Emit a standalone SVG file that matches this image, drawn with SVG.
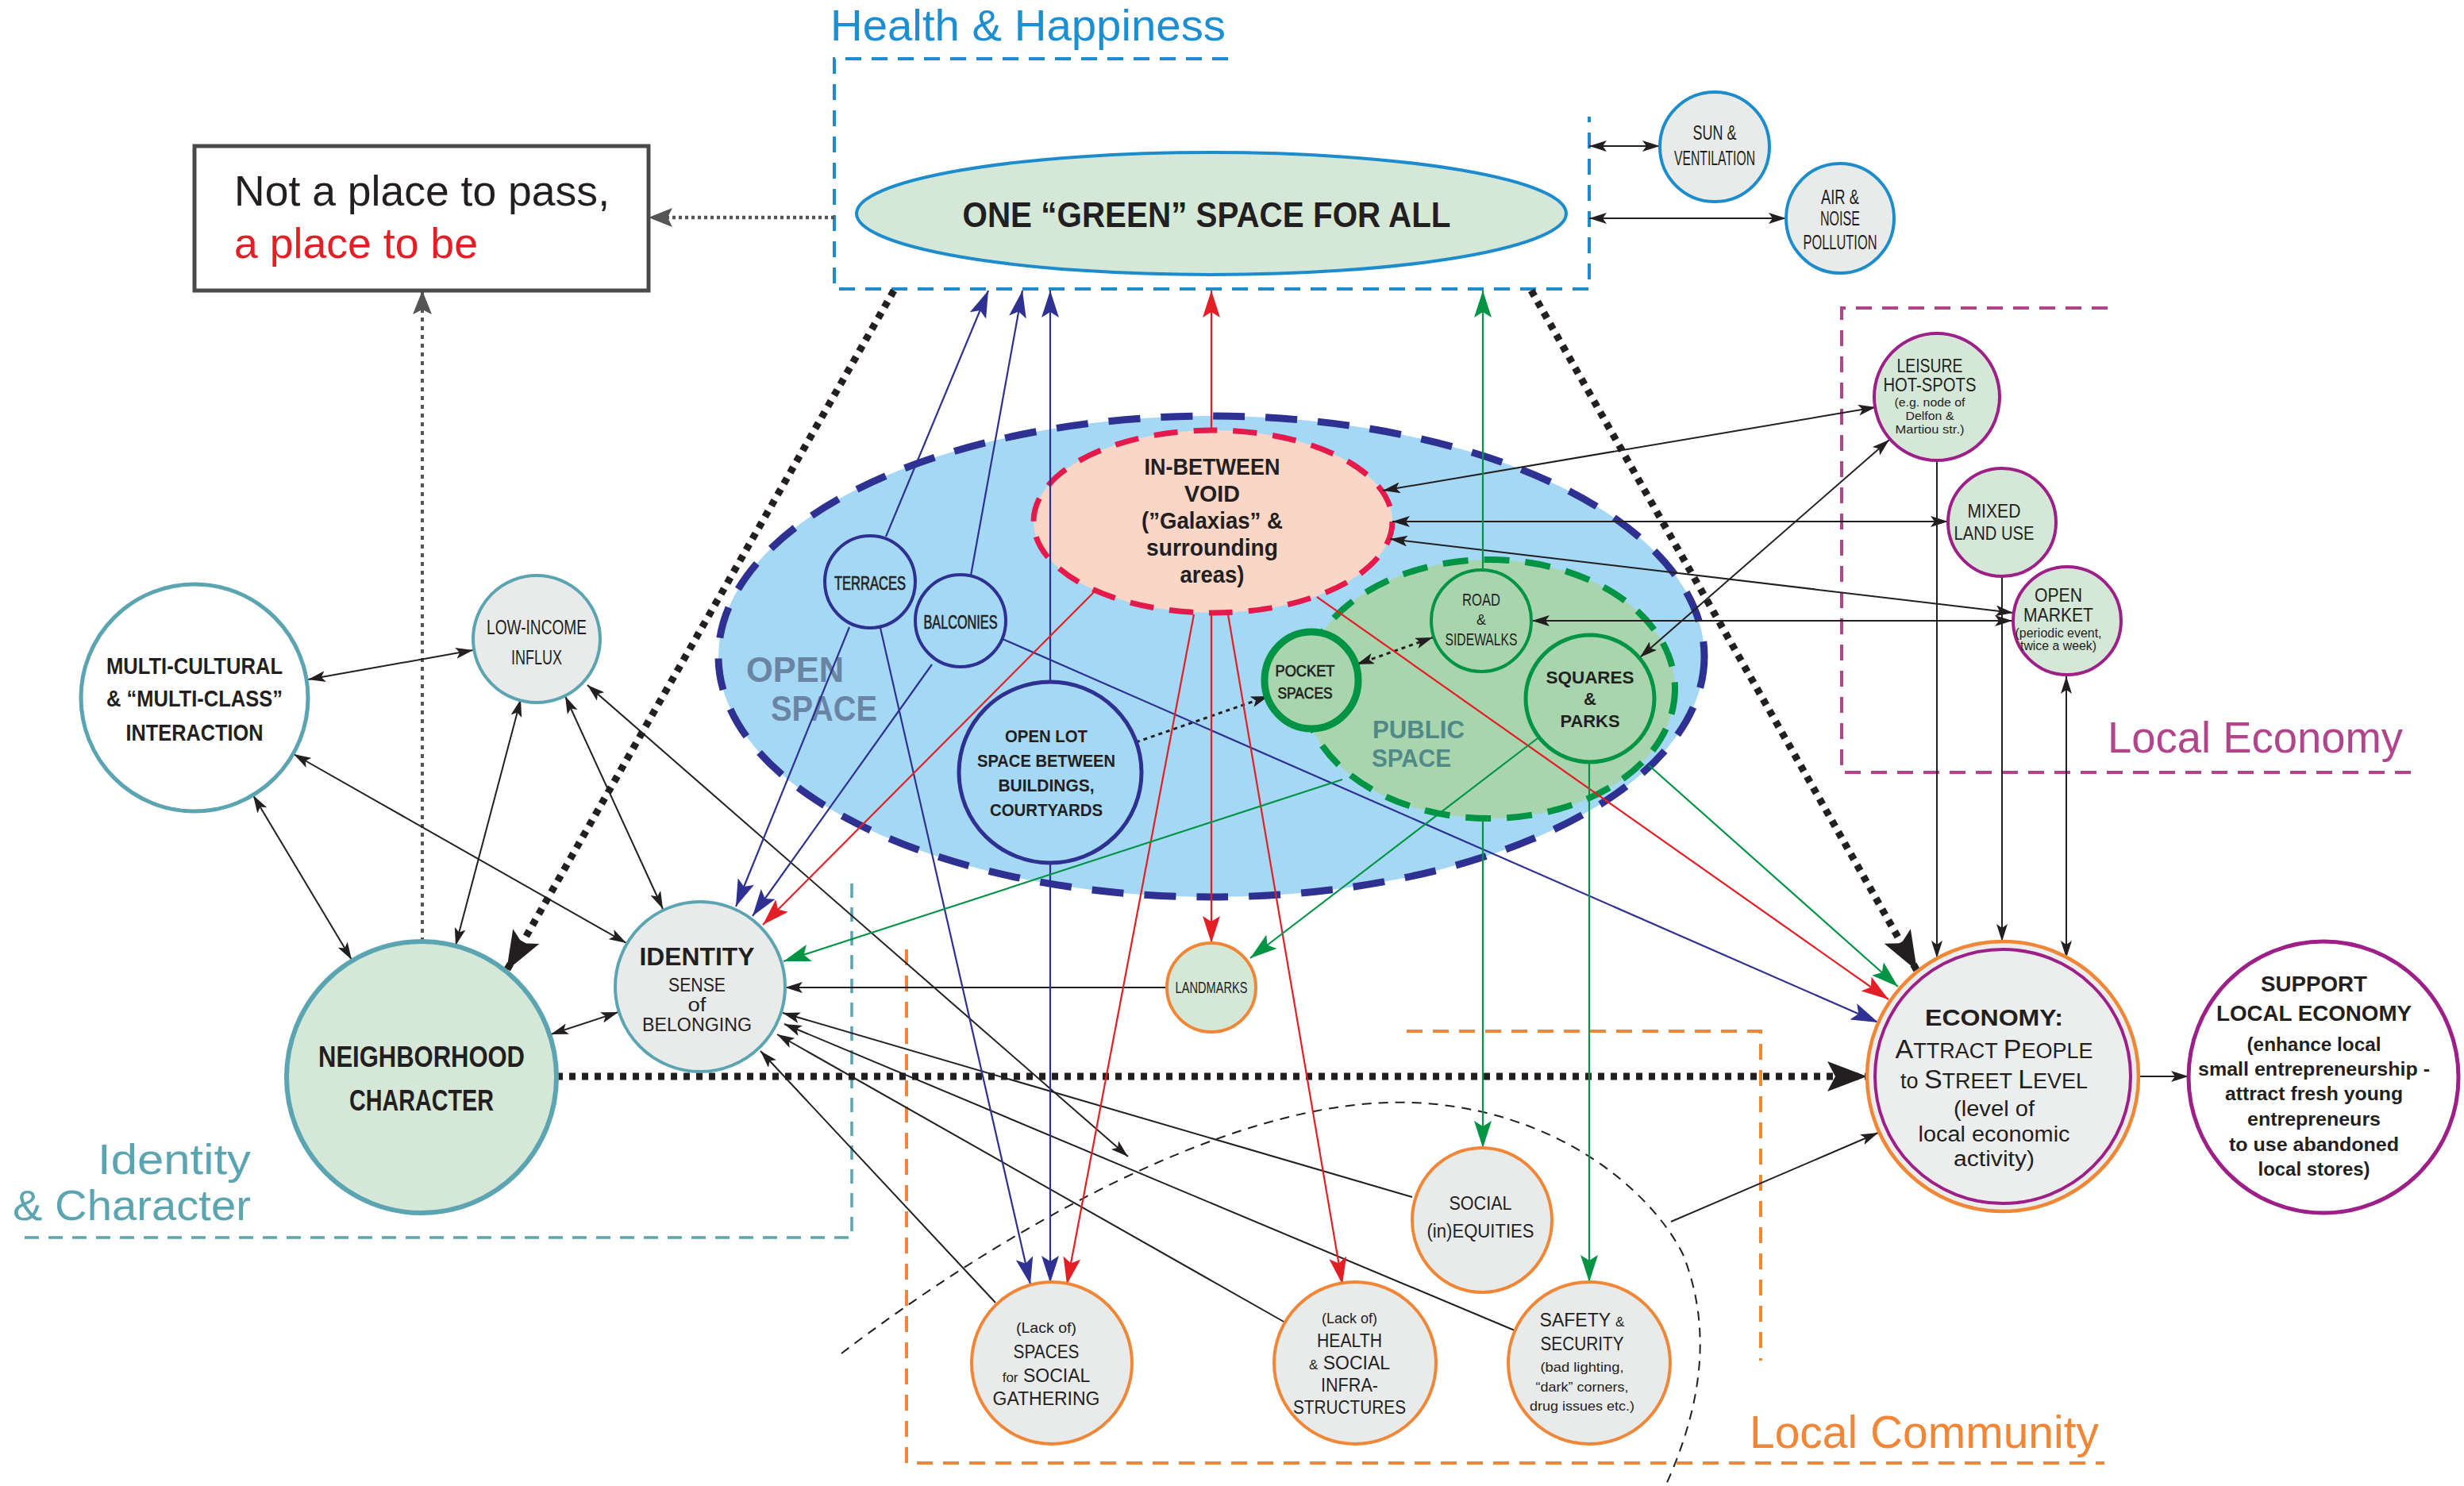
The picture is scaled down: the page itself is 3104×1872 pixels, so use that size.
<svg xmlns="http://www.w3.org/2000/svg" width="3104" height="1872" viewBox="0 0 3104 1872">
<style>
.t{font-family:"Liberation Sans",Arial,sans-serif;fill:#231f20;text-anchor:middle}
.b{font-weight:bold}
.m{stroke:#231f20;stroke-width:0.7}
.ln{fill:none;stroke:#231f20;stroke-width:2}
.nv{fill:none;stroke:#2e3192;stroke-width:2.2}
.rd{fill:none;stroke:#e31e24;stroke-width:2.2}
.gn{fill:none;stroke:#009444;stroke-width:2.2}
.gd{fill:none;stroke:#555;stroke-width:4.5;stroke-dasharray:4 4}
.th{fill:none;stroke:#231f20;stroke-width:9;stroke-dasharray:8 8}
.sd{fill:none;stroke:#231f20;stroke-width:3;stroke-dasharray:5 5}
.grey{fill:#e9ebeb}
.lg{fill:#d5e8d8}
.teal{stroke:#5ba4b1}
.blue{stroke:#1c8ccd}
.pur{stroke:#9e1f87}
.org{stroke:#f08636}
.nvc{stroke:#2e3192}
.grc{stroke:#009444}
</style>
<defs>
<marker id="ak" viewBox="0 0 22 14" refX="22" refY="7" markerWidth="22" markerHeight="14" markerUnits="userSpaceOnUse" orient="auto-start-reverse"><path d="M0,0 L22,7 L0,14 L5,7 z" fill="#231f20"/></marker>
<marker id="an" viewBox="0 0 34 22" refX="34" refY="11" markerWidth="34" markerHeight="22" markerUnits="userSpaceOnUse" orient="auto"><path d="M0,0 L34,11 L0,22 L7,11 z" fill="#2e3192"/></marker>
<marker id="ar" viewBox="0 0 34 22" refX="34" refY="11" markerWidth="34" markerHeight="22" markerUnits="userSpaceOnUse" orient="auto"><path d="M0,0 L34,11 L0,22 L7,11 z" fill="#e31e24"/></marker>
<marker id="ag" viewBox="0 0 34 22" refX="34" refY="11" markerWidth="34" markerHeight="22" markerUnits="userSpaceOnUse" orient="auto"><path d="M0,0 L34,11 L0,22 L7,11 z" fill="#009444"/></marker>
<marker id="agr" viewBox="0 0 30 24" refX="30" refY="12" markerWidth="30" markerHeight="24" markerUnits="userSpaceOnUse" orient="auto"><path d="M0,0 L30,12 L0,24 L6,12 z" fill="#555"/></marker>
<marker id="at" viewBox="0 0 50 38" refX="50" refY="19" markerWidth="50" markerHeight="38" markerUnits="userSpaceOnUse" orient="auto"><path d="M0,0 L50,19 L0,38 L10,19 z" fill="#231f20"/></marker>
</defs>
<rect width="3104" height="1872" fill="#fff"/>

<g id="frames" fill="none" stroke-width="4">
<path d="M1547,74 H1051 V364 H2002 V147" stroke="#1c8ccd" stroke-dasharray="20 13"/>
<path d="M2655,388 H2320 V973 H3049" stroke="#b0458c" stroke-dasharray="20 13"/>
<path d="M1142,1196 V1843 H2651" stroke="#f08636" stroke-dasharray="20 13"/>
<path d="M1772,1299 H2218 V1714" stroke="#f08636" stroke-dasharray="20 13"/>
<path d="M1073,1113 V1559 H20" stroke="#5ba4b1" stroke-width="3.5" stroke-dasharray="18 12"/>
<path d="M1060,1705 C1250,1560 1550,1380 1779,1389 C1960,1396 2080,1500 2120,1580 C2160,1680 2140,1780 2098,1872" stroke="#231f20" stroke-width="2" stroke-dasharray="12 9"/>
</g>
<g id="frame-labels" class="t" style="text-anchor:start">
<text x="1046" y="51" font-size="56" style="fill:#1b8fd2" textLength="498" lengthAdjust="spacingAndGlyphs">Health &amp; Happiness</text>
<text x="2655" y="948" font-size="55" style="fill:#b0458c" textLength="372" lengthAdjust="spacingAndGlyphs">Local Economy</text>
<text x="2204" y="1824" font-size="57" style="fill:#f08636" textLength="440" lengthAdjust="spacingAndGlyphs">Local Community</text>
<text x="316" y="1479" font-size="54" style="fill:#5ba4b1;text-anchor:end" textLength="193" lengthAdjust="spacingAndGlyphs">Identity</text>
<text x="316" y="1537" font-size="54" style="fill:#5ba4b1;text-anchor:end" textLength="300" lengthAdjust="spacingAndGlyphs">&amp; Character</text>
</g>

<g id="open-space">
<ellipse cx="1526" cy="827" rx="621" ry="303" fill="#a4d8f4" stroke="#2e3192" stroke-width="9" stroke-dasharray="40 26"/>
<text class="t b" x="940" y="859" font-size="44" style="text-anchor:start;fill:#6a84a4" textLength="123" lengthAdjust="spacingAndGlyphs">OPEN</text>
<text class="t b" x="971" y="908" font-size="44" style="text-anchor:start;fill:#6a84a4" textLength="134" lengthAdjust="spacingAndGlyphs">SPACE</text>
</g>
<g id="public-space">
<ellipse cx="1876" cy="868" rx="234" ry="163" fill="#a9d5ae" stroke="#009444" stroke-width="8" stroke-dasharray="32 20"/>
<text class="t b" x="1729" y="930" font-size="31" style="text-anchor:start;fill:#508a88" textLength="116" lengthAdjust="spacingAndGlyphs">PUBLIC</text>
<text class="t b" x="1728" y="966" font-size="31" style="text-anchor:start;fill:#508a88" textLength="100" lengthAdjust="spacingAndGlyphs">SPACE</text>
</g>
<g id="in-between-void">
<ellipse cx="1528" cy="657" rx="226" ry="115" fill="#f9d6c6" stroke="#e5194b" stroke-width="7" stroke-dasharray="30 20"/>
<g class="t b" font-size="30">
<text x="1527" y="598" textLength="171" lengthAdjust="spacingAndGlyphs">IN-BETWEEN</text>
<text x="1527" y="632" textLength="70" lengthAdjust="spacingAndGlyphs">VOID</text>
<text x="1527" y="666" textLength="178" lengthAdjust="spacingAndGlyphs">(”Galaxias” &amp;</text>
<text x="1527" y="700" textLength="166" lengthAdjust="spacingAndGlyphs">surrounding</text>
<text x="1527" y="734" textLength="81" lengthAdjust="spacingAndGlyphs">areas)</text>
</g>
</g>

<g id="connectors">
<line class="gd" x1="1051" y1="274" x2="817" y2="274" marker-end="url(#agr)"/>
<line class="gd" x1="532" y1="1186" x2="532" y2="366" style="stroke-dasharray:5 6;stroke-width:4" marker-end="url(#agr)"/>
<line class="th" x1="1126" y1="366" x2="638" y2="1223" marker-end="url(#at)"/>
<line class="th" x1="1929" y1="366" x2="2415" y2="1223" marker-end="url(#at)"/>
<line class="th" x1="701" y1="1356" x2="2352" y2="1356" marker-end="url(#at)"/>

<line class="ln" x1="388" y1="856" x2="596" y2="819" marker-start="url(#ak)" marker-end="url(#ak)"/>
<line class="ln" x1="319" y1="1002" x2="443" y2="1209" marker-start="url(#ak)" marker-end="url(#ak)"/>
<line class="ln" x1="370" y1="950" x2="789" y2="1188" marker-start="url(#ak)" marker-end="url(#ak)"/>
<line class="ln" x1="656" y1="881" x2="574" y2="1191" marker-start="url(#ak)" marker-end="url(#ak)"/>
<line class="ln" x1="712" y1="877" x2="835" y2="1145" marker-start="url(#ak)" marker-end="url(#ak)"/>
<line class="ln" x1="740" y1="863" x2="1421" y2="1457" marker-start="url(#ak)" marker-end="url(#ak)"/>
<line class="ln" x1="694" y1="1303" x2="779" y2="1275" marker-start="url(#ak)" marker-end="url(#ak)"/>
<line class="ln" x1="2002" y1="184" x2="2091" y2="184" marker-start="url(#ak)" marker-end="url(#ak)"/>
<line class="ln" x1="2002" y1="275" x2="2250" y2="275" marker-start="url(#ak)" marker-end="url(#ak)"/>
<line class="ln" x1="1742" y1="618" x2="2363" y2="513" marker-start="url(#ak)" marker-end="url(#ak)"/>
<line class="ln" x1="1754" y1="657" x2="2454" y2="657" marker-start="url(#ak)" marker-end="url(#ak)"/>
<line class="ln" x1="1751" y1="679" x2="2536" y2="772" marker-start="url(#ak)" marker-end="url(#ak)"/>
<line class="ln" x1="1930" y1="782" x2="2535" y2="782" marker-start="url(#ak)" marker-end="url(#ak)"/>
<line class="ln" x1="2380" y1="554" x2="2066" y2="828" marker-start="url(#ak)" marker-end="url(#ak)"/>
<line class="ln" x1="2603" y1="852" x2="2603" y2="1207" marker-start="url(#ak)" marker-end="url(#ak)"/>

<line class="ln" x1="1471" y1="1244" x2="989" y2="1244" marker-end="url(#ak)"/>
<line class="ln" x1="1779" y1="1508" x2="986" y2="1276" marker-end="url(#ak)"/>
<line class="ln" x1="1908" y1="1676" x2="988" y2="1290" marker-end="url(#ak)"/>
<line class="ln" x1="1619" y1="1666" x2="979" y2="1303" marker-end="url(#ak)"/>
<line class="ln" x1="1254" y1="1641" x2="958" y2="1324" marker-end="url(#ak)"/>
<line class="ln" x1="2440" y1="580" x2="2440" y2="1207" marker-end="url(#ak)"/>
<line class="ln" x1="2522" y1="726" x2="2522" y2="1186" marker-end="url(#ak)"/>
<line class="ln" x1="2693" y1="1356" x2="2757" y2="1356" marker-end="url(#ak)"/>
<line class="ln" x1="2105" y1="1539" x2="2366" y2="1427" marker-end="url(#ak)"/>

<line class="sd" x1="1709" y1="837" x2="1805" y2="803" marker-start="url(#ak)" marker-end="url(#ak)"/>
<line class="sd" x1="1431" y1="935" x2="1598" y2="877" marker-end="url(#ak)"/>

<line class="nv" x1="1116" y1="676" x2="1245" y2="366" marker-end="url(#an)"/>
<line class="nv" x1="1223" y1="725" x2="1288" y2="366" marker-end="url(#an)"/>
<line class="nv" x1="1323" y1="859" x2="1323" y2="366" marker-end="url(#an)"/>
<line class="nv" x1="1323" y1="1087" x2="1323" y2="1616" marker-end="url(#an)"/>
<line class="nv" x1="1070" y1="790" x2="927" y2="1142" marker-end="url(#an)"/>
<line class="nv" x1="1109" y1="791" x2="1298" y2="1618" marker-end="url(#an)"/>
<line class="nv" x1="1174" y1="837" x2="948" y2="1154" marker-end="url(#an)"/>
<line class="nv" x1="1263" y1="805" x2="2366" y2="1288" marker-end="url(#an)"/>

<line class="rd" x1="1526" y1="542" x2="1526" y2="366" marker-end="url(#ar)"/>
<line class="rd" x1="1526" y1="772" x2="1526" y2="1188" marker-end="url(#ar)"/>
<line class="rd" x1="1382" y1="742" x2="961" y2="1165" marker-end="url(#ar)"/>
<line class="rd" x1="1504" y1="774" x2="1344" y2="1618" marker-end="url(#ar)"/>
<line class="rd" x1="1547" y1="774" x2="1691" y2="1618" marker-end="url(#ar)"/>
<line class="rd" x1="1659" y1="752" x2="2379" y2="1259" marker-end="url(#ar)"/>

<line class="gn" x1="1868" y1="718" x2="1868" y2="366" marker-end="url(#ag)"/>
<line class="gn" x1="1691" y1="982" x2="987" y2="1211" marker-end="url(#ag)"/>
<line class="gn" x1="1937" y1="930" x2="1575" y2="1207" marker-end="url(#ag)"/>
<line class="gn" x1="1868" y1="1031" x2="1868" y2="1446" marker-end="url(#ag)"/>
<line class="gn" x1="2002" y1="961" x2="2002" y2="1615" marker-end="url(#ag)"/>
<line class="gn" x1="2077" y1="964" x2="2391" y2="1243" marker-end="url(#ag)"/>
</g>

<g id="place-to-be">
<rect x="245" y="184" width="572" height="182" fill="#fff" stroke="#4a4a4a" stroke-width="5"/>
<text class="t" x="295" y="259" font-size="53" style="text-anchor:start" textLength="473" lengthAdjust="spacingAndGlyphs">Not a place to pass,</text>
<text class="t" x="295" y="325" font-size="53" style="text-anchor:start;fill:#e31e24" textLength="307" lengthAdjust="spacingAndGlyphs">a place to be</text>
</g>
<g id="one-green-space">
<ellipse cx="1526" cy="269" rx="447" ry="77" class="lg blue" stroke-width="4"/>
<text class="t b" x="1520" y="286" font-size="45" textLength="615" lengthAdjust="spacingAndGlyphs">ONE “GREEN” SPACE FOR ALL</text>
</g>
<g id="sun-ventilation">
<ellipse cx="2160" cy="185" rx="69" ry="69" class="grey blue" stroke-width="4"/>
<text class="t" x="2160" y="176" font-size="25" textLength="55" lengthAdjust="spacingAndGlyphs">SUN &amp;</text>
<text class="t" x="2160" y="208" font-size="25" textLength="102" lengthAdjust="spacingAndGlyphs">VENTILATION</text>
</g>
<g id="air-noise">
<ellipse cx="2318" cy="275" rx="68" ry="69" class="grey blue" stroke-width="4"/>
<text class="t" x="2318" y="257" font-size="25" textLength="48" lengthAdjust="spacingAndGlyphs">AIR &amp;</text>
<text class="t" x="2318" y="284" font-size="25" textLength="50" lengthAdjust="spacingAndGlyphs">NOISE</text>
<text class="t" x="2318" y="314" font-size="25" textLength="93" lengthAdjust="spacingAndGlyphs">POLLUTION</text>
</g>
<g id="leisure">
<ellipse cx="2440" cy="500" rx="79" ry="80" class="lg pur" stroke-width="4"/>
<text class="t" x="2431" y="469" font-size="23" textLength="83" lengthAdjust="spacingAndGlyphs">LEISURE</text>
<text class="t" x="2431" y="493" font-size="23" textLength="117" lengthAdjust="spacingAndGlyphs">HOT-SPOTS</text>
<text class="t" x="2431" y="512" font-size="15" textLength="89" lengthAdjust="spacingAndGlyphs">(e.g. node of</text>
<text class="t" x="2431" y="529" font-size="15" textLength="61" lengthAdjust="spacingAndGlyphs">Delfon &amp;</text>
<text class="t" x="2431" y="546" font-size="15" textLength="87" lengthAdjust="spacingAndGlyphs">Martiou str.)</text>
</g>
<g id="mixed-land-use">
<ellipse cx="2522" cy="658" rx="68" ry="68" class="lg pur" stroke-width="4"/>
<text class="t" x="2512" y="652" font-size="23" textLength="67" lengthAdjust="spacingAndGlyphs">MIXED</text>
<text class="t" x="2512" y="680" font-size="23" textLength="101" lengthAdjust="spacingAndGlyphs">LAND USE</text>
</g>
<g id="open-market">
<ellipse cx="2604" cy="782" rx="68" ry="68" class="lg pur" stroke-width="4"/>
<text class="t" x="2593" y="758" font-size="23" textLength="60" lengthAdjust="spacingAndGlyphs">OPEN</text>
<text class="t" x="2593" y="783" font-size="23" textLength="88" lengthAdjust="spacingAndGlyphs">MARKET</text>
<text class="t" x="2593" y="803" font-size="16" textLength="109" lengthAdjust="spacingAndGlyphs">(periodic event,</text>
<text class="t" x="2593" y="819" font-size="16" textLength="96" lengthAdjust="spacingAndGlyphs">twice a week)</text>
</g>
<g id="economy">
<ellipse cx="2523" cy="1356" rx="171" ry="170" fill="#eceeee" class="org" stroke-width="4.5"/>
<ellipse cx="2523" cy="1356" rx="161" ry="160" fill="none" class="pur" stroke-width="4"/>
<text class="t b" x="2512" y="1292" font-size="30" textLength="174" lengthAdjust="spacingAndGlyphs">ECONOMY:</text>
<text class="t" x="2512" y="1333" font-size="27"><tspan font-size="34">A</tspan>TTRACT <tspan font-size="34">P</tspan>EOPLE</text>
<text class="t" x="2512" y="1371" font-size="27">to <tspan font-size="34">S</tspan>TREET <tspan font-size="34">L</tspan>EVEL</text>
<text class="t" x="2512" y="1406" font-size="27" textLength="102" lengthAdjust="spacingAndGlyphs">(level of</text>
<text class="t" x="2512" y="1438" font-size="27" textLength="191" lengthAdjust="spacingAndGlyphs">local economic</text>
<text class="t" x="2512" y="1469" font-size="27" textLength="102" lengthAdjust="spacingAndGlyphs">activity)</text>
</g>
<g id="support-local-economy">
<ellipse cx="2927" cy="1357" rx="170" ry="171" fill="#fff" class="pur" stroke-width="5"/>
<g class="t b">
<text x="2915" y="1249" font-size="28" textLength="134" lengthAdjust="spacingAndGlyphs">SUPPORT</text>
<text x="2915" y="1286" font-size="28" textLength="246" lengthAdjust="spacingAndGlyphs">LOCAL ECONOMY</text>
<text x="2915" y="1324" font-size="24" textLength="169" lengthAdjust="spacingAndGlyphs">(enhance local</text>
<text x="2915" y="1355" font-size="24" textLength="292" lengthAdjust="spacingAndGlyphs">small entrepreneurship -</text>
<text x="2915" y="1386" font-size="24" textLength="224" lengthAdjust="spacingAndGlyphs">attract fresh young</text>
<text x="2915" y="1418" font-size="24" textLength="168" lengthAdjust="spacingAndGlyphs">entrepreneurs</text>
<text x="2915" y="1450" font-size="24" textLength="214" lengthAdjust="spacingAndGlyphs">to use abandoned</text>
<text x="2915" y="1481" font-size="24" textLength="141" lengthAdjust="spacingAndGlyphs">local stores)</text>
</g>
</g>
<g id="multi-cultural">
<ellipse cx="245" cy="879" rx="143" ry="143" fill="#fff" class="teal" stroke-width="5"/>
<text class="t b" x="245" y="849" font-size="30" textLength="222" lengthAdjust="spacingAndGlyphs">MULTI-CULTURAL</text>
<text class="t b" x="245" y="890" font-size="30" textLength="222" lengthAdjust="spacingAndGlyphs">&amp; “MULTI-CLASS”</text>
<text class="t b" x="245" y="933" font-size="30" textLength="173" lengthAdjust="spacingAndGlyphs">INTERACTION</text>
</g>
<g id="low-income">
<ellipse cx="676" cy="805" rx="80" ry="80" class="grey teal" stroke-width="4"/>
<text class="t" x="676" y="799" font-size="25" textLength="126" lengthAdjust="spacingAndGlyphs">LOW-INCOME</text>
<text class="t" x="676" y="837" font-size="25" textLength="64" lengthAdjust="spacingAndGlyphs">INFLUX</text>
</g>
<g id="neighborhood-character">
<ellipse cx="531" cy="1357" rx="170" ry="171" class="lg teal" stroke-width="6"/>
<text class="t b" x="531" y="1344" font-size="36" textLength="260" lengthAdjust="spacingAndGlyphs">NEIGHBORHOOD</text>
<text class="t b" x="531" y="1399" font-size="36" textLength="182" lengthAdjust="spacingAndGlyphs">CHARACTER</text>
</g>
<g id="identity">
<ellipse cx="882" cy="1243" rx="107" ry="107" class="grey teal" stroke-width="4"/>
<text class="t b" x="878" y="1216" font-size="31" textLength="145" lengthAdjust="spacingAndGlyphs">IDENTITY</text>
<text class="t" x="878" y="1249" font-size="23" textLength="72" lengthAdjust="spacingAndGlyphs">SENSE</text>
<text class="t" x="878" y="1274" font-size="23" textLength="23" lengthAdjust="spacingAndGlyphs">of</text>
<text class="t" x="878" y="1299" font-size="23" textLength="138" lengthAdjust="spacingAndGlyphs">BELONGING</text>
</g>
<g id="terraces">
<ellipse cx="1096" cy="733" rx="57" ry="58" fill="#a4d8f4" class="nvc" stroke-width="4"/>
<text class="t m" x="1096" y="743" font-size="23" textLength="90" lengthAdjust="spacingAndGlyphs">TERRACES</text>
</g>
<g id="balconies">
<ellipse cx="1210" cy="782" rx="57" ry="58" fill="#a4d8f4" class="nvc" stroke-width="4"/>
<text class="t m" x="1210" y="792" font-size="23" textLength="93" lengthAdjust="spacingAndGlyphs">BALCONIES</text>
</g>
<g id="open-lot">
<ellipse cx="1323" cy="973" rx="115" ry="114" fill="#a4d8f4" class="nvc" stroke-width="5"/>
<text class="t b" x="1318" y="935" font-size="22" textLength="104" lengthAdjust="spacingAndGlyphs">OPEN LOT</text>
<text class="t b" x="1318" y="966" font-size="22" textLength="174" lengthAdjust="spacingAndGlyphs">SPACE BETWEEN</text>
<text class="t b" x="1318" y="997" font-size="22" textLength="121" lengthAdjust="spacingAndGlyphs">BUILDINGS,</text>
<text class="t b" x="1318" y="1028" font-size="22" textLength="142" lengthAdjust="spacingAndGlyphs">COURTYARDS</text>
</g>
<g id="pocket-spaces">
<ellipse cx="1652" cy="857" rx="59" ry="61" fill="#a9d5ae" class="grc" stroke-width="9"/>
<text class="t m" x="1644" y="852" font-size="21" textLength="75" lengthAdjust="spacingAndGlyphs">POCKET</text>
<text class="t m" x="1644" y="880" font-size="21" textLength="69" lengthAdjust="spacingAndGlyphs">SPACES</text>
</g>
<g id="road-sidewalks">
<ellipse cx="1866" cy="782" rx="63" ry="64" fill="#a9d5ae" class="grc" stroke-width="4"/>
<text class="t" x="1866" y="763" font-size="22" textLength="48" lengthAdjust="spacingAndGlyphs">ROAD</text>
<text class="t" x="1866" y="787" font-size="18">&amp;</text>
<text class="t" x="1866" y="813" font-size="22" textLength="91" lengthAdjust="spacingAndGlyphs">SIDEWALKS</text>
</g>
<g id="squares-parks">
<ellipse cx="2003" cy="880" rx="81" ry="80" fill="#a9d5ae" class="grc" stroke-width="5"/>
<text class="t b" x="2003" y="861" font-size="22" textLength="111" lengthAdjust="spacingAndGlyphs">SQUARES</text>
<text class="t b" x="2003" y="888" font-size="22">&amp;</text>
<text class="t b" x="2003" y="916" font-size="22" textLength="75" lengthAdjust="spacingAndGlyphs">PARKS</text>
</g>
<g id="landmarks">
<ellipse cx="1526" cy="1244" rx="56" ry="56" class="lg org" stroke-width="4"/>
<text class="t" x="1526" y="1251" font-size="21" textLength="91" lengthAdjust="spacingAndGlyphs">LANDMARKS</text>
</g>
<g id="social-inequities">
<ellipse cx="1867" cy="1537" rx="88" ry="91" class="grey org" stroke-width="4"/>
<text class="t" x="1865" y="1524" font-size="23" textLength="79" lengthAdjust="spacingAndGlyphs">SOCIAL</text>
<text class="t" x="1865" y="1559" font-size="23" textLength="135" lengthAdjust="spacingAndGlyphs">(in)EQUITIES</text>
</g>
<g id="spaces-social-gathering">
<ellipse cx="1325" cy="1717" rx="101" ry="102" class="grey org" stroke-width="4"/>
<text class="t" x="1318" y="1679" font-size="18" textLength="76" lengthAdjust="spacingAndGlyphs">(Lack of)</text>
<text class="t" x="1318" y="1711" font-size="23" textLength="83" lengthAdjust="spacingAndGlyphs">SPACES</text>
<text class="t" x="1318" y="1741" font-size="23"><tspan font-size="17">for</tspan> SOCIAL</text>
<text class="t" x="1318" y="1770" font-size="23" textLength="135" lengthAdjust="spacingAndGlyphs">GATHERING</text>
</g>
<g id="health-social-infrastructures">
<ellipse cx="1707" cy="1717" rx="102" ry="102" class="grey org" stroke-width="4"/>
<text class="t" x="1700" y="1667" font-size="18" textLength="70" lengthAdjust="spacingAndGlyphs">(Lack of)</text>
<text class="t" x="1700" y="1697" font-size="23" textLength="82" lengthAdjust="spacingAndGlyphs">HEALTH</text>
<text class="t" x="1700" y="1725" font-size="23"><tspan font-size="17">&amp;</tspan> SOCIAL</text>
<text class="t" x="1700" y="1753" font-size="23" textLength="72" lengthAdjust="spacingAndGlyphs">INFRA-</text>
<text class="t" x="1700" y="1781" font-size="23" textLength="142" lengthAdjust="spacingAndGlyphs">STRUCTURES</text>
</g>
<g id="safety-security">
<ellipse cx="2002" cy="1717" rx="102" ry="102" class="grey org" stroke-width="4"/>
<text class="t" x="1993" y="1671" font-size="23">SAFETY <tspan font-size="17">&amp;</tspan></text>
<text class="t" x="1993" y="1701" font-size="23" textLength="105" lengthAdjust="spacingAndGlyphs">SECURITY</text>
<text class="t" x="1993" y="1728" font-size="17" textLength="105" lengthAdjust="spacingAndGlyphs">(bad lighting,</text>
<text class="t" x="1993" y="1753" font-size="17" textLength="117" lengthAdjust="spacingAndGlyphs">“dark” corners,</text>
<text class="t" x="1993" y="1777" font-size="17" textLength="132" lengthAdjust="spacingAndGlyphs">drug issues etc.)</text>
</g>
</svg>
